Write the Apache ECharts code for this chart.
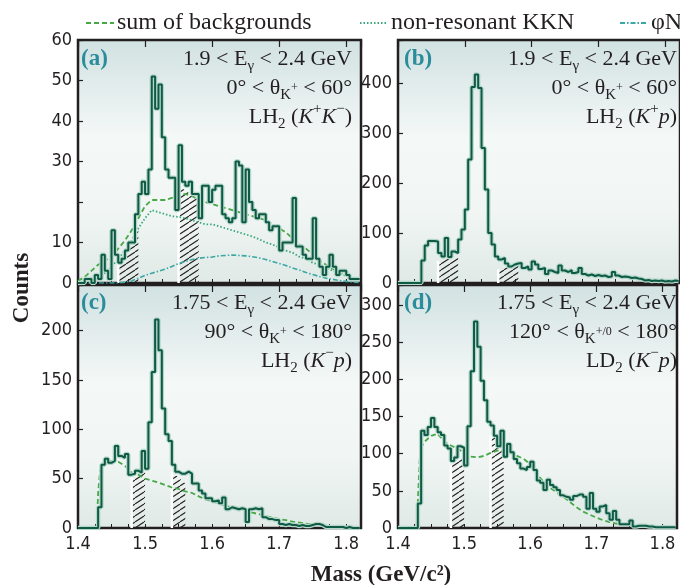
<!DOCTYPE html>
<html>
<head>
<meta charset="utf-8">
<script src="https://cdn.jsdelivr.net/npm/echarts@6.0.0/dist/echarts.min.js"></script>
<style>
  html, body { margin: 0; padding: 0; background: #fff; }
  #chart { width: 680px; height: 585px; }
</style>
</head>
<body>
<div id="chart"></div>
<script>
const SERIF = '"Liberation Serif", "Times New Roman", serif';
const SANS = '"Liberation Sans Narrow", "Arial Narrow", "DejaVu Sans Condensed", sans-serif';
const INK = '#231f20';

// histogram bins: 0.005 GeV wide, starting at 1.400
const binStart = 1.4;
const binWidth = 0.005;

const countsA = [
  0, 0, 1, 1, 0, 2, 1, 7, 3, 1,
  13, 7, 5, 6, 8, 10, 10, 17, 22, 25,
  22, 28, 51, 43, 49, 36, 28, 26, 26, 18,
  34, 25, 24, 25, 22, 22, 16, 24, 24, 20,
  23, 24, 24, 17, 16, 15, 16, 30, 29, 15,
  28, 20, 18, 16, 17, 17, 15, 13, 14, 14,
  8, 10, 10, 10, 21, 9, 9, 7, 6, 6,
  16, 6, 4, 2, 4, 7, 4, 2, 3, 3,
  2, 1, 1, 1
];
const countsB = [
  0, 0, 0, 0, 0, 0, 0, 45, 75, 84,
  84, 83, 60, 53, 90, 52, 63, 60, 87, 107,
  147, 247, 392, 417, 390, 270, 187, 100, 77, 53,
  47, 50, 39, 33, 37, 39, 40, 30, 33, 27,
  43, 37, 28, 30, 18, 25, 22, 20, 35, 25,
  22, 26, 20, 22, 30, 18, 15, 17, 14, 16,
  14, 15, 12, 13, 22, 15, 12, 13, 12, 10,
  11, 9, 8, 5, 6, 4, 5, 4, 5, 3,
  4, 3, 5, 4
];
const countsC = [
  0, 0, 0, 0, 0, 0, 21, 64, 70, 66,
  68, 83, 73, 71, 75, 54, 55, 58, 56, 78,
  60, 107, 158, 211, 180, 121, 95, 88, 64, 57,
  55, 55, 57, 55, 45, 45, 38, 35, 30, 30,
  27, 28, 25, 31, 19, 21, 20, 19, 20, 19,
  6, 19, 20, 19, 20, 11, 9, 9, 8, 8,
  4, 3, 4, 3, 3, 2, 3, 2, 2, 3,
  4, 4, 3, 1, 1, 1, 1, 1, 1, 0,
  1, 0, 0, 0
];
const countsD = [
  0, 0, 0, 0, 0, 0, 33, 131, 125, 136,
  148, 136, 129, 125, 111, 107, 90, 95, 110, 108,
  84, 137, 211, 278, 244, 198, 172, 143, 138, 124,
  110, 131, 96, 113, 102, 93, 87, 80, 78, 82,
  89, 78, 64, 61, 51, 65, 58, 55, 51, 44,
  42, 41, 38, 43, 45, 45, 42, 26, 47, 26,
  22, 29, 31, 20, 11, 23, 11, 5, 5, 5,
  10, 2, 3, 3, 3, 2, 2, 1, 1, 1,
  1, 1, 1, 1
];

// background curves
const bgMassA = Array.from({ length: 43 }, (_, i) => +(1.40 + i * 0.01).toFixed(2));
const sumBgA = [
  0.5, 1.5, 3, 4.5, 5.5, 6.5, 8.5, 10.5, 13, 16,
  19, 20.5, 20.5, 20.5, 21, 21.5, 22, 21.5, 20.5, 20,
  19.5, 19, 18.5, 18, 17.5, 17, 16.5, 16, 15.5, 14.5,
  13.5, 12.5, 11, 9.5, 8.5, 7, 5.5, 4.5, 3.5, 2.5,
  2, 1.2, 0.8
];
const kknA = [
  0, 0.3, 0.8, 1.5, 2.5, 4, 6, 8, 10.5, 13.5,
  16, 18, 17.5, 17, 16.5, 16.3, 16, 15.5, 15, 14.5,
  14.5, 14, 13.5, 13, 12.5, 12, 11.5, 10.8, 10, 9.5,
  8.8, 8, 7.5, 6.5, 6, 5, 4.5, 3.8, 3, 2.3,
  1.8, 1.2, 0.8
];
const phiA = [
  0, 0, 0, 0, 0, 0, 0, 0.2, 0.5, 1.2,
  1.9, 2.4, 2.9, 3.4, 4.1, 4.8, 5.3, 5.8, 6.1, 6.3,
  6.4, 6.7, 6.8, 6.9, 6.8, 6.7, 6.5, 6.2, 5.8, 5.3,
  4.8, 4.3, 3.7, 3.2, 2.6, 2.1, 1.6, 1.2, 0.9, 0.6,
  0.4, 0.2, 0.1
];
const bgMassCD = [1.428, 1.430, 1.433, 1.436].concat(
  Array.from({ length: 39 }, (_, i) => +(1.44 + i * 0.01).toFixed(2)));
const sumBgC = [
  0, 35, 58, 63,
  65, 68, 67, 63, 56, 54, 50, 48, 46, 43.5,
  41, 39.5, 37, 35.5, 32, 29, 27, 25, 22.5, 21,
  19.5, 17.5, 15.5, 14, 12, 10.5, 9, 8, 6.5, 5.5,
  4.5, 3.5, 3, 2.5, 2, 1.5, 1.2, 1, 0.8
];
const sumBgD = [
  0, 35, 95, 110,
  116, 124, 127, 116, 111, 107, 101, 96, 95, 97,
  101, 104, 104, 101, 97, 93, 86, 73, 62, 54,
  48, 42, 35, 28, 22, 18, 14, 10.5, 8, 6,
  5, 4, 3, 2.5, 2, 1.5, 1.2, 1, 1
];

// sideband regions: [mass from, top at from, mass to, top at to]
const sidebandsA = [[1.46, 5, 1.49, 13], [1.55, 24, 1.58, 20.5]];
const sidebandsB = [[1.46, 45, 1.49, 52], [1.55, 28, 1.58, 36]];
const sidebandsC = [[1.48, 51, 1.50, 57], [1.54, 57, 1.56, 45]];
const sidebandsD = [[1.48, 84, 1.50, 96], [1.54, 125, 1.56, 112]];

const yMax = [60, 486, 246, 327];
const yStep = [10, 100, 50, 50];
const hiddenYLabels = [[20], [], [], []];

const grids = [
  { left: 78, top: 40, width: 283, height: 243 },
  { left: 398, top: 40, width: 284, height: 243 },
  { left: 78, top: 285, width: 283, height: 243 },
  { left: 398, top: 285, width: 284, height: 243 }
];

const chart = echarts.init(document.getElementById('chart'));

function pair(xs, ys) {
  return xs.map((x, i) => [x, ys[i]]);
}

function histData(counts) {
  const d = counts.map((v, i) => [+(binStart + i * binWidth).toFixed(3), v]);
  d.push([+(binStart + counts.length * binWidth).toFixed(3), counts[counts.length - 1]]);
  return d;
}

function hatchPattern() {
  const c = document.createElement('canvas');
  c.width = 9;
  c.height = 6;
  const ctx = c.getContext('2d');
  ctx.strokeStyle = INK;
  ctx.lineWidth = 1.1;
  ctx.beginPath();
  [-9, 0, 9].forEach(dx => {
    ctx.moveTo(dx, 6);
    ctx.lineTo(dx + 9, 0);
  });
  ctx.stroke();
  return { image: c, repeat: 'repeat' };
}
const hatch = hatchPattern();

const bgColor = {
  type: 'linear', x: 0, y: 0, x2: 0, y2: 1,
  colorStops: [
    { offset: 0, color: '#d1e1e1' },
    { offset: 0.4, color: '#f4f8f7' },
    { offset: 0.7, color: '#f1f6f4' },
    { offset: 1, color: '#dfe9e6' }
  ]
};

const series = [];

function addSidebands(p, bands) {
  bands.forEach(b => {
    series.push({
      type: 'line', xAxisIndex: 2 * p, yAxisIndex: p,
      data: [[b[0], b[1]], [b[2], b[3]]],
      symbol: 'none', silent: true, z: 2,
      lineStyle: { width: 0 },
      areaStyle: { color: hatch, opacity: 1 }
    });
    series.push({
      type: 'line', xAxisIndex: 2 * p, yAxisIndex: p,
      data: [[b[0], 0], [b[0], b[1]]],
      symbol: 'none', silent: true, z: 3,
      lineStyle: { color: '#ffffff', width: 2.5 }
    });
  });
}

function addCurve(p, name, xs, ys, style) {
  series.push({
    type: 'line', name, xAxisIndex: 2 * p, yAxisIndex: p,
    data: pair(xs, ys), symbol: 'none', silent: true, z: 4,
    itemStyle: { color: style.color },
    lineStyle: style
  });
}

function addHist(p, counts) {
  series.push({
    type: 'line', xAxisIndex: 2 * p, yAxisIndex: p,
    data: histData(counts), step: 'end', symbol: 'none', silent: true, z: 5,
    lineStyle: { color: '#b5d7ca', width: 4.5 }
  });
  series.push({
    type: 'line', xAxisIndex: 2 * p, yAxisIndex: p,
    data: histData(counts), step: 'end', symbol: 'none', silent: true, z: 6,
    lineStyle: { color: '#0e5a45', width: 2 }
  });
}

const sumStyle = { color: '#46a846', width: 1.8, type: [5, 3] };
const kknStyle = { color: '#3aa77a', width: 1.8, type: [1.5, 2] };
const phiStyle = { color: '#3aa8a4', width: 1.6, type: [5, 2, 1.5, 2] };

addSidebands(0, sidebandsA);
addCurve(0, 'sum of backgrounds', bgMassA, sumBgA, sumStyle);
addCurve(0, 'non-resonant KKN', bgMassA, kknA, kknStyle);
addCurve(0, 'φN', bgMassA, phiA, phiStyle);
addHist(0, countsA);

addSidebands(1, sidebandsB);
addHist(1, countsB);

addSidebands(2, sidebandsC);
addCurve(2, 'sum of backgrounds', bgMassCD, sumBgC, sumStyle);
addHist(2, countsC);

addSidebands(3, sidebandsD);
addCurve(3, 'sum of backgrounds', bgMassCD, sumBgD, sumStyle);
addHist(3, countsD);

const xAxes = [];
const yAxes = [];
grids.forEach((g, p) => {
  // minor ticks every 0.025, labels only on the tenths
  xAxes.push({
    type: 'value', gridIndex: p, min: 1.4, max: 1.822, interval: 0.025,
    axisLine: { show: false },
    splitLine: { show: false },
    axisTick: { show: true, inside: true, length: 4, lineStyle: { color: INK, width: 1 } },
    axisLabel: {
      show: p >= 2, margin: 7, color: INK, fontFamily: SANS, fontSize: 18,
      formatter: v => Math.abs(v * 10 - Math.round(v * 10)) < 1e-6 ? v.toFixed(1) : ''
    }
  });
  // major ticks every 0.1
  xAxes.push({
    type: 'value', gridIndex: p, min: 1.4, max: 1.822, interval: 0.1,
    axisLine: { show: false },
    splitLine: { show: false },
    axisTick: { show: true, inside: true, length: 7, lineStyle: { color: INK, width: 1.2 } },
    axisLabel: { show: false }
  });
  yAxes.push({
    type: 'value', gridIndex: p, min: 0, max: yMax[p], interval: yStep[p],
    axisLine: { show: false },
    splitLine: { show: false },
    axisTick: { show: true, inside: true, length: 5, lineStyle: { color: INK, width: 1.2 } },
    axisLabel: {
      margin: 6, color: INK, fontFamily: SANS, fontSize: 18,
      formatter: v => (v % yStep[p] === 0 && !hiddenYLabels[p].includes(v)) ? String(v) : ''
    }
  });
});

const RICH = {
  t: { fontFamily: SERIF, fontSize: 22, lineHeight: 30, fill: INK, verticalAlign: 'middle' },
  i: { fontFamily: SERIF, fontSize: 22, lineHeight: 30, fill: INK, fontStyle: 'italic', verticalAlign: 'middle' },
  s: { fontFamily: SERIF, fontSize: 15, lineHeight: 15, fill: INK, verticalAlign: 'bottom' },
  u: { fontFamily: SERIF, fontSize: 15, lineHeight: 15, fill: INK, verticalAlign: 'top' },
  p: { fontFamily: SERIF, fontSize: 12, lineHeight: 12, fill: INK, verticalAlign: 'middle' }
};

function note(x, y, text) {
  return {
    type: 'text', x, y, silent: true, z: 10,
    style: {
      text, rich: RICH, fill: INK,
      align: 'right', verticalAlign: 'middle',
      textAlign: 'right', textVerticalAlign: 'middle'
    }
  };
}

function tag(x, y, text) {
  return {
    type: 'text', x, y, silent: true, z: 10,
    style: {
      text, font: 'bold 23px ' + SERIF, fill: '#2b8c9c',
      verticalAlign: 'middle', textVerticalAlign: 'middle'
    }
  };
}

const panelNotes = [
  { x: 352, y: 59, lines: [
    '{t|1.9 < E}{s|γ}{t| < 2.4 GeV}',
    '{t|0° < θ}{s|K}{p|+}{t| < 60°}',
    '{t|LH}{s|2}{t| (}{i|K}{u|+}{i|K}{u|−}{t|)}'
  ] },
  { x: 677, y: 59, lines: [
    '{t|1.9 < E}{s|γ}{t| < 2.4 GeV}',
    '{t|0° < θ}{s|K}{p|+}{t| < 60°}',
    '{t|LH}{s|2}{t| (}{i|K}{u|+}{i|p}{t|)}'
  ] },
  { x: 352, y: 303, lines: [
    '{t|1.75 < E}{s|γ}{t| < 2.4 GeV}',
    '{t|90° < θ}{s|K}{p|+}{t| < 180°}',
    '{t|LH}{s|2}{t| (}{i|K}{u|−}{i|p}{t|)}'
  ] },
  { x: 677, y: 303, lines: [
    '{t|1.75 < E}{s|γ}{t| < 2.4 GeV}',
    '{t|120° < θ}{s|K}{p|+/0}{t| < 180°}',
    '{t|LD}{s|2}{t| (}{i|K}{u|−}{i|p}{t|)}'
  ] }
];

const graphics = [];
panelNotes.forEach(n => {
  n.lines.forEach((l, i) => graphics.push(note(n.x, n.y + i * 29, l)));
});
graphics.push(tag(81, 59, '(a)'));
graphics.push(tag(404, 59, '(b)'));
graphics.push(tag(81, 303, '(c)'));
graphics.push(tag(404, 303, '(d)'));
graphics.push({
  type: 'text', x: 22, y: 288, rotation: Math.PI / 2, silent: true,
  style: {
    text: 'Counts', font: 'bold 23px ' + SERIF, fill: INK,
    align: 'center', verticalAlign: 'middle', textAlign: 'center', textVerticalAlign: 'middle'
  }
});
graphics.push({
  type: 'text', x: 381, y: 575, silent: true,
  style: {
    text: 'Mass (GeV/c²)', font: 'bold 23px ' + SERIF, fill: INK,
    align: 'center', verticalAlign: 'middle', textAlign: 'center', textVerticalAlign: 'middle'
  }
});

function legendAt(left, name) {
  return {
    left, top: 6, data: [name], selectedMode: false,
    itemWidth: 28, itemHeight: 12, itemGap: 0,
    itemStyle: { opacity: 0 },
    textStyle: { fontFamily: SERIF, fontSize: 24, color: INK, padding: [0, 0, 0, -2] }
  };
}

const option = {
  animation: false,
  backgroundColor: '#ffffff',
  legend: [
    legendAt(80, 'sum of backgrounds'),
    legendAt(354, 'non-resonant KKN'),
    legendAt(614, 'φN')
  ],
  grid: grids.map(g => Object.assign({
    show: true, backgroundColor: bgColor, borderColor: INK, borderWidth: 2.5
  }, g)),
  xAxis: xAxes,
  yAxis: yAxes,
  series,
  graphic: graphics
};

chart.setOption(option);
</script>
</body>
</html>
